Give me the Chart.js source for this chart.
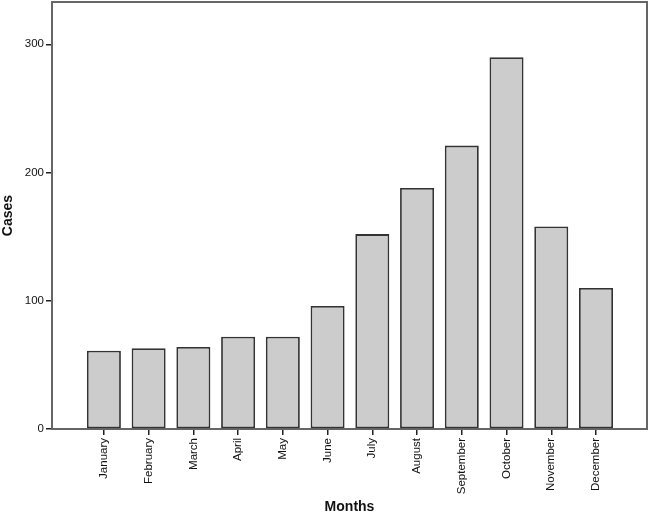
<!DOCTYPE html>
<html>
<head>
<meta charset="utf-8">
<script src="https://cdn.jsdelivr.net/npm/chart.js@4"></script>
<style>
html,body{margin:0;padding:0;background:#fff;}
#c{display:block;}
</style>
</head>
<body>
<canvas id="c" width="650" height="517"></canvas>
<script>
const months = ["January","February","March","April","May","June","July","August","September","October","November","December"];
const cases = [61, 63, 64, 72, 72, 96, 152, 188, 221, 290, 158, 110];
const yTicks = [0, 100, 200, 300];

const FONT = "'Liberation Sans', Arial, Helvetica, sans-serif";

const framePlugin = {
  id: 'frame',
  beforeDatasetsDraw(chart) {
    const a = chart.chartArea, ctx = chart.ctx;
    ctx.save();
    ctx.strokeStyle = '#666';
    ctx.lineWidth = 2;
    ctx.strokeRect(a.left, a.top, a.right - a.left, a.bottom - a.top);
    ctx.restore();
  }
};

new Chart(document.getElementById('c'), {
  type: 'bar',
  data: {
    datasets: [{
      data: months.map((m, i) => ({x: i, y: cases[i]})),
      backgroundColor: '#cccccc',
      borderColor: '#333333',
      borderWidth: 1.8,
      borderSkipped: false,
      barPercentage: 0.76,
      categoryPercentage: 1
    }]
  },
  options: {
    responsive: false,
    animation: false,
    layout: {padding: {top: 2, right: 3, left: 0, bottom: 0}},
    plugins: {legend: {display: false}, tooltip: {enabled: false}},
    scales: {
      x: {
        type: 'linear',
        offset: false,
        min: -1.16,
        max: 12.14,
        afterBuildTicks(scale) { scale.ticks = months.map((m, i) => ({value: i})); },
        afterFit(scale) { scale.height = 88; scale.paddingLeft = 0; scale.paddingRight = 0; scale.paddingTop = 0; scale.paddingBottom = 0; },
        grid: {offset: false, drawOnChartArea: false, drawTicks: true, tickLength: 6, color: '#222', lineWidth: 1.5},
        border: {display: true, color: '#333', width: 2},
        ticks: {
          autoSkip: false,
          maxRotation: 90,
          minRotation: 90,
          padding: 3,
          color: '#111',
          font: {family: FONT, size: 11.5},
          callback: (v) => months[v] !== undefined ? months[v] : ''
        },
        title: {display: true, text: 'Months', color: '#111', font: {family: FONT, size: 14, weight: 'bold'}, padding: {top: 0, bottom: 1}}
      },
      y: {
        min: 0,
        max: 333,
        afterBuildTicks(scale) { scale.ticks = yTicks.map(v => ({value: v})); },
        afterFit(scale) { scale.width = 52; scale.paddingTop = 0; scale.paddingBottom = 0; },
        grid: {drawOnChartArea: false, drawTicks: true, tickLength: 6, color: '#222', lineWidth: 1.5},
        border: {display: true, color: '#333', width: 2},
        ticks: {padding: 2, color: '#111', font: {family: FONT, size: 11.5}},
        title: {display: true, text: 'Cases', color: '#111', font: {family: FONT, size: 14, weight: 'bold'}, padding: {top: 0, bottom: 0}}
      }
    }
  },
  plugins: [framePlugin]
});
</script>
</body>
</html>
